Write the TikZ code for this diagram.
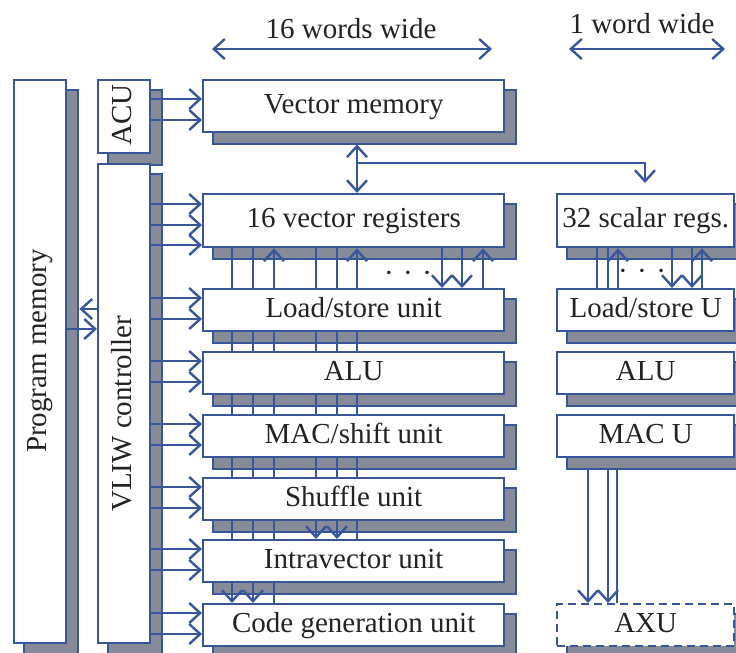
\documentclass[tikz,border=0pt]{standalone}
\usepackage{fontspec}
\setmainfont{Liberation Serif}
\usetikzlibrary{arrows.meta}
\definecolor{lblue}{RGB}{56,86,156}
\definecolor{shgray}{RGB}{134,139,151}
\definecolor{txt}{RGB}{35,35,35}
\pgfdeclarelayer{shadowlayer}
\pgfdeclarelayer{wirelayer}
\pgfsetlayers{shadowlayer,wirelayer,main}
\begin{document}
\begin{tikzpicture}[x=1pt,y=-1pt,
  unitbox/.style={draw=lblue, line width=2.4pt, fill=white, inner sep=0pt, text=txt,
    font=\fontsize{29}{31}\selectfont, text height=20pt, text depth=6pt, anchor=north west},
  shadowbox/.style={draw=lblue, line width=2pt, fill=shgray},
  wire/.style={draw=lblue, line width=2.4pt},
  tipsty/.tip={Straight Barb[length=11pt,width=20pt,line width=2.4pt]},
  arr/.style={wire, -tipsty},
  darr/.style={wire, tipsty-tipsty},
  lbl/.style={text=txt, inner sep=0pt, font=\fontsize{29}{31}\selectfont, text height=20pt, text depth=6pt}
]
\useasboundingbox (0,0) rectangle (736,653);

% ---------- boxes ----------
\node[unitbox, minimum width=52pt, minimum height=563pt] (pm) at (13,79) {};
\node[unitbox, minimum width=52pt, minimum height=73pt] (acu) at (97,79) {};
\node[unitbox, minimum width=52pt, minimum height=479pt] (vliw) at (97,163) {};
\node[lbl, rotate=90] (pmt) at (39,351) {Program memory};
\node[lbl, rotate=90] (vliwt) at (124,414) {VLIW controller};
\node[lbl, rotate=90] (acut) at (124,115) {ACU};

\node[unitbox, minimum width=301pt, minimum height=52pt] (vm) at (202,79) {Vector memory};
\node[unitbox, minimum width=301pt, minimum height=53pt] (reg) at (202,193) {16 vector registers};
\node[unitbox, minimum width=301pt, minimum height=42pt] (ls) at (202,288) {Load/store unit};
\node[unitbox, minimum width=301pt, minimum height=42pt] (alu) at (202,351) {ALU};
\node[unitbox, minimum width=301pt, minimum height=42pt] (mac) at (202,414) {MAC/shift unit};
\node[unitbox, minimum width=301pt, minimum height=42pt] (shuf) at (202,477) {Shuffle unit};
\node[unitbox, minimum width=301pt, minimum height=42pt] (intra) at (202,539) {Intravector unit};
\node[unitbox, minimum width=301pt, minimum height=42pt] (cg) at (202,603) {Code generation unit};

\node[unitbox, minimum width=177pt, minimum height=53pt] (sreg) at (556,193) {32 scalar regs.};
\node[unitbox, minimum width=177pt, minimum height=42pt] (sls) at (556,288) {Load/store U};
\node[unitbox, minimum width=177pt, minimum height=42pt] (salu) at (556,351) {ALU};
\node[unitbox, minimum width=177pt, minimum height=42pt] (smac) at (556,414) {MAC U};
\node[unitbox, minimum width=177pt, minimum height=42pt, dash pattern=on 8pt off 5pt] (axu) at (556,603) {AXU};

% ---------- shadows ----------
\begin{pgfonlayer}{shadowlayer}
\foreach \n in {pm,acu,vliw,vm,reg,ls,alu,mac,shuf,intra,cg,sreg,sls,salu,smac,axu}
  \draw[shadowbox] ([shift={(11pt,-11pt)}]\n.north west) rectangle ([shift={(11pt,-11pt)}]\n.south east);
\end{pgfonlayer}

% ---------- wires ----------
\begin{pgfonlayer}{wirelayer}
% VLIW -> units
\foreach \u/\o in {reg/11,reg/32,reg/52,ls/10,ls/31,alu/10,alu/31,mac/10,mac/31,shuf/10,shuf/31,intra/10,intra/31,cg/10,cg/31}{
  \coordinate (tmp) at ([yshift=-\o pt]\u.north west);
  \draw[arr] (tmp -| vliw.east) -- (tmp);
}
% ACU -> vector memory
\foreach \o in {20,41}{
  \coordinate (tmp) at ([yshift=-\o pt]vm.north west);
  \draw[arr] (tmp -| acu.east) -- (tmp);
}
% program memory <-> VLIW
\path (vliw.north west) ++(0,146) coordinate (p1s);
\path (pm.north east) ++(12,230) coordinate (p1e);
\draw[arr] (p1s) -- (p1e);
\path (pm.north east) ++(0,250) coordinate (p2s);
\path (vliw.north west) ++(0,166) coordinate (p2e);
\draw[arr] (p2s) -- (p2e);

% vector memory <-> registers, and to scalar registers
\draw[darr] ([xshift=155pt,yshift=-11pt]vm.south west) -- ([xshift=155pt]reg.north west);
\coordinate (br) at ([xshift=155pt,yshift=30pt]reg.north west);
\coordinate (st) at ([xshift=89pt,yshift=10pt]sreg.north west);
\draw[arr] (br) -| (st);

% vector buses
\foreach \x in {30,51}
  \draw[arr] ([xshift=\x pt]reg.south west) -- ([xshift=\x pt]cg.north west);
\draw[arr] ([xshift=72pt]cg.north west) -- ([xshift=72pt]reg.south west);
\foreach \x in {114,135}
  \draw[arr] ([xshift=\x pt]reg.south west) -- ([xshift=\x pt]intra.north west);
\draw[arr] ([xshift=155pt]intra.north west) -- ([xshift=155pt]reg.south west);
\foreach \x in {240,260}
  \draw[arr] ([xshift=\x pt]reg.south west) -- ([xshift=\x pt]ls.north west);
\draw[arr] ([xshift=281pt]ls.north west) -- ([xshift=281pt]reg.south west);

% scalar buses
\foreach \x in {41,52}
  \draw[wire] ([xshift=\x pt]sreg.south west) -- ([xshift=\x pt]sls.north west);
\draw[arr] ([xshift=62pt]sls.north west) -- ([xshift=62pt]sreg.south west);
\foreach \x in {116,136}
  \draw[arr] ([xshift=\x pt]sreg.south west) -- ([xshift=\x pt]sls.north west);
\draw[arr] ([xshift=146pt]sls.north west) -- ([xshift=146pt]sreg.south west);
\foreach \x in {32,52}
  \draw[arr] ([xshift=\x pt,yshift=-11pt]smac.south west) -- ([xshift=\x pt]axu.north west);
\draw[wire] ([xshift=61pt,yshift=-11pt]smac.south west) -- ([xshift=61pt]axu.north west);
\end{pgfonlayer}

% dots
\node[lbl, anchor=base, text height=, text depth=] (dv) at (408,282) {·\hspace{9.5pt}·\hspace{9.5pt}·};
\node[lbl, anchor=base, text height=, text depth=] (ds) at (642,280) {·\hspace{9.5pt}·\hspace{9.5pt}·};

% width indications
\coordinate (w16a) at (212,49);
\coordinate (w16b) at (492,49);
\draw[darr] (w16a) -- (w16b);
\node[lbl, anchor=base, text height=, text depth=] (t16) at (351,38) {16 words wide};
\coordinate (w1a) at (569,49);
\coordinate (w1b) at (725,49);
\draw[darr] (w1a) -- (w1b);
\node[lbl, anchor=base, text height=, text depth=] (t1) at (642,33) {1 word wide};
\end{tikzpicture}
\end{document}
